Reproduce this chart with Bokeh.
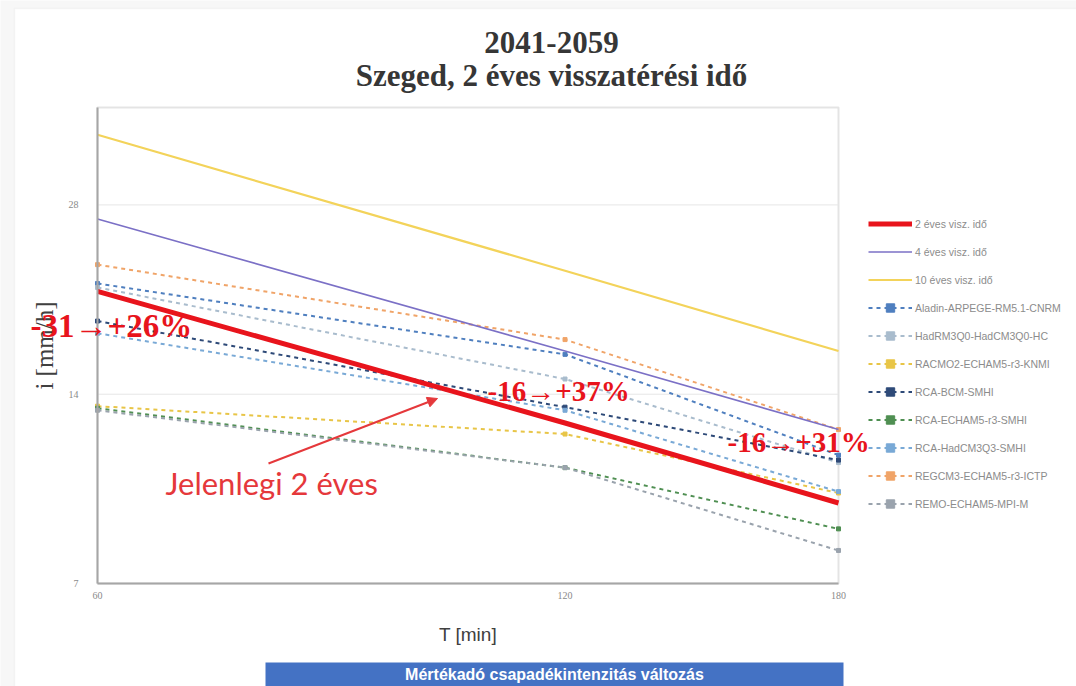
import math
from bokeh.plotting import figure
from bokeh.models import (Legend, LegendItem, Label, Arrow, NormalHead, FixedTicker,
                          NumeralTickFormatter, BoxAnnotation, LogAxis)
from bokeh.embed import file_html
from bokeh.resources import INLINE

# ---- data ----
durations = [60, 120, 180]          # T [min]
y_ticks = [7, 14, 28]
y_max = 40

ref_names = ["2 éves visz. idő", "4 éves visz. idő", "10 éves visz. idő"]
ref_2 = [20.4, 12.6, 9.4]
ref_4 = [26.6, 16.4, 12.3]
ref_10 = [36.2, 22.0, 16.4]

model_names = ["Aladin-ARPEGE-RM5.1-CNRM", "HadRM3Q0-HadCM3Q0-HC", "RACMO2-ECHAM5-r3-KNMI",
               "RCA-BCM-SMHI", "RCA-ECHAM5-r3-SMHI", "RCA-HadCM3Q3-SMHI",
               "REGCM3-ECHAM5-r3-ICTP", "REMO-ECHAM5-MPI-M"]
aladin = [21.0, 16.2, 11.2]
hadrm = [20.7, 14.8, 10.9]
racmo = [13.4, 12.1, 9.75]
rca_bcm = [18.3, 13.35, 11.0]
rca_echam = [13.3, 10.7, 8.55]
rca_had = [17.5, 13.2, 9.8]
regcm = [22.5, 17.1, 12.3]
remo = [13.2, 10.7, 7.9]
model_values = [aladin, hadrm, racmo, rca_bcm, rca_echam, rca_had, regcm, remo]

annot_texts = ["-31→+26%", "-16→+37%", "-16→+31%"]
current_label = "Jelenlegi 2 éves"
title_lines = ["2041-2059", "Szeged, 2 éves visszatérési idő"]
bottom_text = "Mértékadó csapadékintenzitás változás"

# ---- layout (pixels) ----
W, H = 1076, 686
PX_L, PX_R, PX_T, PX_B = 97, 838, 107, 583   # visible plot box

model_colors = ["#4f7fbf", "#a9bccd", "#e8c547", "#2e4a78", "#4f8f52", "#79a9d6", "#f0a468", "#9aa3ad"]
RED = "#e8141c"
SERIF = "Liberation Serif"
SANS = "Liberation Sans"
GRAY = "#a6a6a6"

# ranges of the whole canvas so that the plot box maps to [60,180] x [7,40]
x0, x1 = durations[0], durations[-1]
y0, y1 = y_ticks[0], y_max
kx = (PX_R - PX_L) / math.log(x1 / x0)
ky = (PX_B - PX_T) / math.log(y1 / y0)
xr = (x0 * math.exp(-PX_L / kx), x1 * math.exp((W - PX_R) / kx))
yr = (y0 * math.exp(-(H - PX_B) / ky), y1 * math.exp(PX_T / ky))

p = figure(width=W, height=H, x_axis_type="log", y_axis_type="log",
           x_range=xr, y_range=yr, output_backend="svg", toolbar_location=None,
           x_axis_location=None, y_axis_location=None, min_border=0)
p.background_fill_color = "#f7f7f7"
p.border_fill_color = "#f7f7f7"
p.outline_line_color = None
p.xgrid.visible = False
p.ygrid.visible = False

# white card
p.add_layout(BoxAnnotation(left=14, right=W + 20, top=H - 8, bottom=-20,
                           left_units="screen", right_units="screen",
                           top_units="screen", bottom_units="screen",
                           fill_color="white", fill_alpha=1, line_color="#e2e2e2",
                           line_width=1.5, level="underlay"))
# plot box
p.add_layout(BoxAnnotation(left=x0, right=x1, bottom=y0, top=y1, fill_alpha=0,
                           line_color=GRAY, line_width=2, level="underlay"))
# horizontal grid lines
p.segment(x0=[x0] * (len(y_ticks) - 1), x1=[x1] * (len(y_ticks) - 1),
          y0=y_ticks[1:], y1=y_ticks[1:], line_color="#e6e6e6", line_width=1)

# ---- series ----
model_items = []
for name, vals, col in zip(model_names, model_values, model_colors):
    ln = p.line(durations, vals, line_color=col, line_width=2, line_dash="4 4")
    sc = p.scatter(durations, vals, marker="square", size=4, fill_color=col, line_color=col)
    model_items.append(LegendItem(label=name, renderers=[ln, sc]))

ref_items = []
for name, vals, col, lw in reversed(list(zip(ref_names, [ref_2, ref_4, ref_10],
                                             [RED, "#7b70c6", "#f3d35a"], [5, 1.6, 2.2]))):
    ln = p.line(durations, vals, line_color=col, line_width=lw)
    ref_items.insert(0, LegendItem(label=name, renderers=[ln]))

# ---- axes ----
xaxis = LogAxis(fixed_location=y0, bounds=(x0, x1), ticker=FixedTicker(ticks=durations))
yaxis = LogAxis(fixed_location=x0, bounds=(y0, y1), ticker=FixedTicker(ticks=y_ticks))
for ax in (xaxis, yaxis):
    ax.formatter = NumeralTickFormatter(format="0")
    ax.major_tick_line_color = None
    ax.minor_tick_line_color = None
    ax.axis_line_color = GRAY
    ax.axis_line_width = 2
    ax.major_label_text_font = SERIF
    ax.major_label_text_font_size = "10px"
    ax.major_label_text_color = "#8a8a8a"
    ax.axis_label_text_font_style = "normal"
    ax.axis_label_text_color = "#404040"
xaxis.major_label_standoff = 2
yaxis.major_label_standoff = 13
yaxis.axis_label = "i [mm/h]"
yaxis.axis_label_text_font = SERIF
yaxis.axis_label_text_font_size = "25px"
yaxis.axis_label_standoff = 8
xaxis.axis_label = "T [min]"
xaxis.axis_label_text_font = SANS
xaxis.axis_label_text_font_size = "19px"
xaxis.axis_label_standoff = 22
p.add_layout(xaxis, "below")
p.add_layout(yaxis, "left")

# ---- legend ----
legend = Legend(items=ref_items + model_items, location=(868, 172),
                glyph_width=44, glyph_height=21, label_height=21, spacing=7, label_standoff=3,
                padding=0, margin=0, border_line_color=None, background_fill_alpha=0,
                label_text_font=SANS, label_text_font_size="10.5px", label_text_color="#8c8c8c")
p.add_layout(legend)

# ---- titles ----
for txt, yy in zip(title_lines, [644, 611]):
    p.add_layout(Label(x=551, y=yy, x_units="screen", y_units="screen", text=txt,
                       text_align="center", text_baseline="middle", text_font=SERIF,
                       text_font_size="31px", text_font_style="bold", text_color="#363636"))

# ---- annotations ----
for txt, (xx, yy), fs in zip(annot_texts, [(30, 361), (487, 296), (727, 245)],
                             ["33px", "29px", "29px"]):
    p.add_layout(Label(x=xx, y=yy, x_units="screen", y_units="screen", text=txt,
                       text_align="left", text_baseline="middle", text_font=SERIF,
                       text_font_size=fs, text_font_style="bold", text_color=RED))

p.add_layout(Label(x=165, y=204, x_units="screen", y_units="screen", text=current_label,
                   text_align="left", text_baseline="middle", text_font="Lato",
                   text_font_size="31px", text_color="#e5383b"))
p.add_layout(Arrow(x_start=268, y_start=223, x_end=437, y_end=288,
                   start_units="screen", end_units="screen", line_color="#e5383b", line_width=2,
                   end=NormalHead(size=10, fill_color="#e5383b", line_color="#e5383b")))

# ---- bottom banner ----
p.add_layout(BoxAnnotation(left=265, right=843, top=24, bottom=-5,
                           left_units="screen", right_units="screen",
                           top_units="screen", bottom_units="screen",
                           fill_color="#4472c4", fill_alpha=1, line_color=None))
p.add_layout(Label(x=554, y=12, x_units="screen", y_units="screen", text=bottom_text,
                   text_align="center", text_baseline="middle", text_font=SANS,
                   text_font_size="16px", text_font_style="bold", text_color="white"))

open("out.html", "w").write(file_html(p, INLINE))
